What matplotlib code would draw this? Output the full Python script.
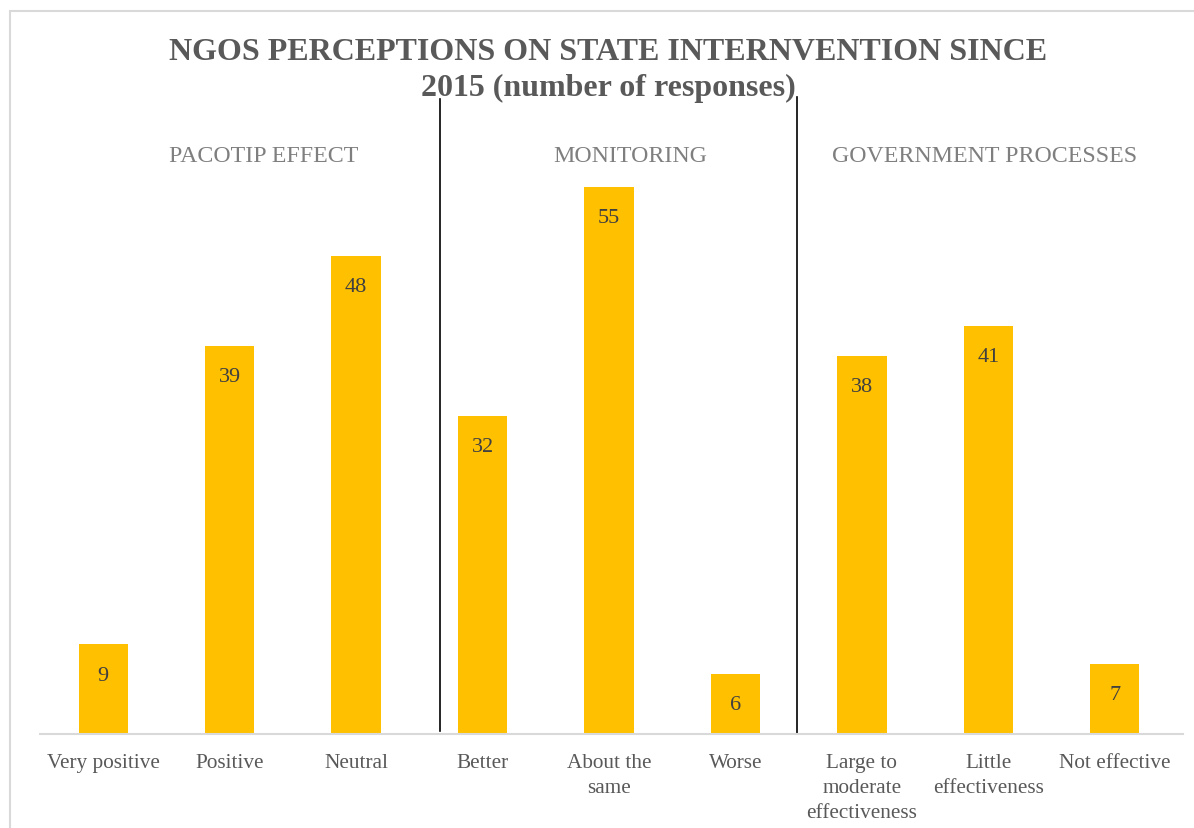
import matplotlib.pyplot as plt
from matplotlib.patches import Rectangle

categories = ['Very positive', 'Positive', 'Neutral', 'Better', 'About the\nsame', 'Worse',
              'Large to\nmoderate\neffectiveness', 'Little\neffectiveness', 'Not effective']
responses = [9, 39, 48, 32, 55, 6, 38, 41, 7]
groups = ['PACOTIP EFFECT', 'MONITORING', 'GOVERNMENT PROCESSES']
group_x = [1.27, 4.17, 6.97]
separators = [2.66, 5.49]

plt.rcParams['font.family'] = ['Liberation Serif', 'DejaVu Serif']

fig = plt.figure(figsize=(11.94, 8.29), dpi=100)
ax = fig.add_axes([40/1194, 1-735/829, 1143/1194, 597/829])

x = range(len(categories))
bars = ax.bar(x, responses, width=0.39, color='#FFC000')
for b, v in zip(bars, responses):
    ax.annotate(str(v), (b.get_x()+b.get_width()/2, v), xytext=(0, -22), textcoords='offset points',
                ha='center', va='center', fontsize=16, color='#404040')

ax.set_xlim(-0.5, 8.54); ax.set_ylim(0, 60)
ax.set_xticks(list(x)); ax.set_xticklabels(categories, fontsize=15.3, color='#595959', linespacing=1.4, va='top')
ax.tick_params(axis='x', length=0, pad=14)
ax.set_yticks([])
for s in ['top', 'right', 'left']: ax.spines[s].set_visible(False)
ax.spines['bottom'].set_color('#d9d9d9'); ax.spines['bottom'].set_linewidth(1.5)

ax.axvline(separators[0], ymin=3/597, ymax=(735-100)/597, color='black', lw=1.2, clip_on=False)
ax.axvline(separators[1], ymin=0, ymax=(735-98)/597, color='black', lw=1.2, clip_on=False)

for g, gx in zip(groups, group_x):
    ax.text(gx, (735-157)/9.95, g, ha='center', va='center', fontsize=17.2, color='#7f7f7f')

fig.text(608/1194, 1-52/829, 'NGOS PERCEPTIONS ON STATE INTERNVENTION SINCE', ha='center', va='center',
         fontsize=23, fontweight='bold', color='#595959')
fig.text(608/1194, 1-88/829, '2015 (number of responses)', ha='center', va='center',
         fontsize=23, fontweight='bold', color='#595959')

fig.patches.append(Rectangle((10/1194, -0.05), 1.1, 1-12/829+0.05, transform=fig.transFigure,
                             fill=False, edgecolor='#d9d9d9', lw=1.5))

fig.savefig('out.png', dpi=100)
